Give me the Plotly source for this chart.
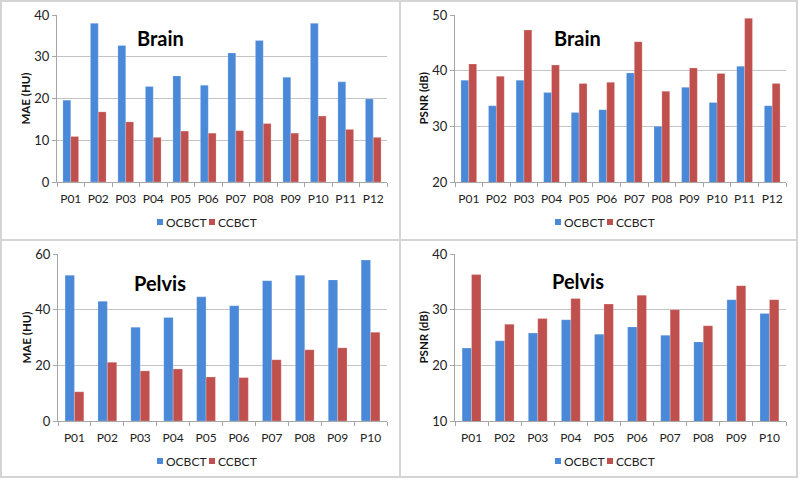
import plotly.graph_objects as go

brain_patients = ["P01", "P02", "P03", "P04", "P05", "P06", "P07", "P08", "P09", "P10", "P11", "P12"]
pelvis_patients = ["P01", "P02", "P03", "P04", "P05", "P06", "P07", "P08", "P09", "P10"]

brain_mae_ocbct = [19.6, 38.0, 32.7, 22.9, 25.4, 23.2, 30.9, 33.9, 25.1, 38.0, 24.0, 19.9]
brain_mae_ccbct = [10.9, 16.8, 14.4, 10.7, 12.2, 11.7, 12.3, 14.0, 11.7, 15.8, 12.6, 10.7]
brain_psnr_ocbct = [38.3, 33.7, 38.3, 36.1, 32.5, 33.0, 39.6, 30.0, 37.0, 34.3, 40.8, 33.7]
brain_psnr_ccbct = [41.2, 39.0, 47.3, 41.0, 37.7, 37.9, 45.2, 36.3, 40.5, 39.5, 49.4, 37.7]

pelvis_mae_ocbct = [52.4, 43.0, 33.7, 37.2, 44.6, 41.4, 50.4, 52.4, 50.7, 57.8]
pelvis_mae_ccbct = [10.5, 21.1, 18.0, 18.7, 15.8, 15.6, 22.0, 25.6, 26.3, 31.9]
pelvis_psnr_ocbct = [23.1, 24.4, 25.8, 28.2, 25.6, 26.9, 25.4, 24.2, 31.8, 29.3]
pelvis_psnr_ccbct = [36.3, 27.4, 28.4, 32.0, 31.0, 32.6, 30.0, 27.1, 34.3, 31.8]

series_names = ["OCBCT", "CCBCT"]
colors = ["#4A88D8", "#C0504D"]
FONT = "Lato"
W, H = 800, 481

def px(x):
    return x / W

def py(y):
    return 1 - y / H

panels = [
    dict(cats=brain_patients, vals=[brain_mae_ocbct, brain_mae_ccbct], ytitle="MAE (HU)",
         yrange=[0, 40], dtick=10, x0=57, x1=387, y0=15, y1=182, title="Brain", tx=160, ty=38,
         lx=157, ly=222),
    dict(cats=brain_patients, vals=[brain_psnr_ocbct, brain_psnr_ccbct], ytitle="PSNR (dB)",
         yrange=[20, 50], dtick=10, x0=455, x1=786, y0=15, y1=182, title="Brain", tx=577, ty=38,
         lx=555, ly=222),
    dict(cats=pelvis_patients, vals=[pelvis_mae_ocbct, pelvis_mae_ccbct], ytitle="MAE (HU)",
         yrange=[0, 60], dtick=20, x0=58, x1=387, y0=254, y1=421, title="Pelvis", tx=160, ty=283,
         lx=157, ly=461),
    dict(cats=pelvis_patients, vals=[pelvis_psnr_ocbct, pelvis_psnr_ccbct], ytitle="PSNR (dB)",
         yrange=[10, 40], dtick=10, x0=455, x1=786, y0=254, y1=421, title="Pelvis", tx=578, ty=281,
         lx=555, ly=461),
]

fig = go.Figure()
layout = dict(
    width=W, height=H, margin=dict(l=0, r=0, t=0, b=0),
    paper_bgcolor="white", plot_bgcolor="white",
    barmode="group", bargap=0.43, bargroupgap=0,
    font=dict(family=FONT, size=12, color="#222222"),
    showlegend=False,
)
annotations = []
shapes = []

for i, p in enumerate(panels):
    k = "" if i == 0 else str(i + 1)
    for j in range(2):
        fig.add_trace(go.Bar(
            x=p["cats"], y=p["vals"][j], name=series_names[j],
            marker=dict(color=colors[j], line=dict(color="rgba(255,255,255,0.35)", width=0.6)),
            xaxis="x" + k, yaxis="y" + k,
        ))
    layout["xaxis" + k] = dict(
        domain=[px(p["x0"]), px(p["x1"])], anchor="y" + k, automargin=False,
        type="category", showline=True, linecolor="#a6a6a6", linewidth=1,
        ticks="outside", tickson="boundaries", ticklen=4, tickcolor="#a6a6a6", tickangle=0,
        ticklabelstandoff=6,
        showgrid=False, tickfont=dict(family=FONT, size=12, color="#222222"),
        fixedrange=True,
    )
    layout["yaxis" + k] = dict(
        domain=[py(p["y1"]), py(p["y0"])], anchor="x" + k, automargin=False,
        range=p["yrange"], dtick=p["dtick"], showline=True, linecolor="#a6a6a6", linewidth=1,
        ticks="outside", ticklen=4, tickcolor="#a6a6a6",
        showgrid=True, gridcolor="#c4c4c4", gridwidth=1, zeroline=False,
        tickfont=dict(family=FONT, size=13, color="#222222"),
        fixedrange=True,
    )
    # y axis title
    annotations.append(dict(
        text="<b>" + p["ytitle"] + "</b>", x=px(p["x0"] - 32), y=py((p["y0"] + p["y1"]) / 2),
        xref="paper", yref="paper", xanchor="center", yanchor="middle", textangle=-90,
        showarrow=False, font=dict(family=FONT, size=11.5, color="#111111"),
    ))
    # panel title
    annotations.append(dict(
        text="<b>" + p["title"] + "</b>", x=px(p["tx"]), y=py(p["ty"]), xref="paper", yref="paper",
        xanchor="center", yanchor="middle", showarrow=False,
        font=dict(family=FONT, size=20, color="#000000"),
    ))
    # legend (square key + label)
    lx = p["lx"]
    for j, name in enumerate(series_names):
        sx = lx + j * 52
        shapes.append(dict(type="rect", xref="paper", yref="paper",
                           x0=px(sx), x1=px(sx + 6), y0=py(p["ly"] + 3), y1=py(p["ly"] - 3),
                           fillcolor=colors[j], line=dict(width=0)))
        annotations.append(dict(
            text=name, x=px(sx + 7), y=py(p["ly"]), xref="paper", yref="paper",
            xanchor="left", yanchor="middle", showarrow=False,
            font=dict(family=FONT, size=12, color="#222222"),
        ))

# panel frames
for (a, b, c, d) in [(1, 1, 400, 240), (400, 1, 797, 240), (1, 240, 400, 477), (400, 240, 797, 477)]:
    shapes.append(dict(type="rect", xref="paper", yref="paper",
                       x0=px(a), x1=px(c), y0=py(d), y1=py(b),
                       line=dict(color="#d4d4d4", width=2), fillcolor="rgba(0,0,0,0)", layer="below"))

layout["annotations"] = annotations
layout["shapes"] = shapes
fig.update_layout(**layout)
fig.write_html(
    "out.html",
    config={"displayModeBar": False, "staticPlot": True},
    post_script="document.body.style.margin='0';document.body.style.padding='0';"
                "document.body.style.overflow='hidden';",
)
